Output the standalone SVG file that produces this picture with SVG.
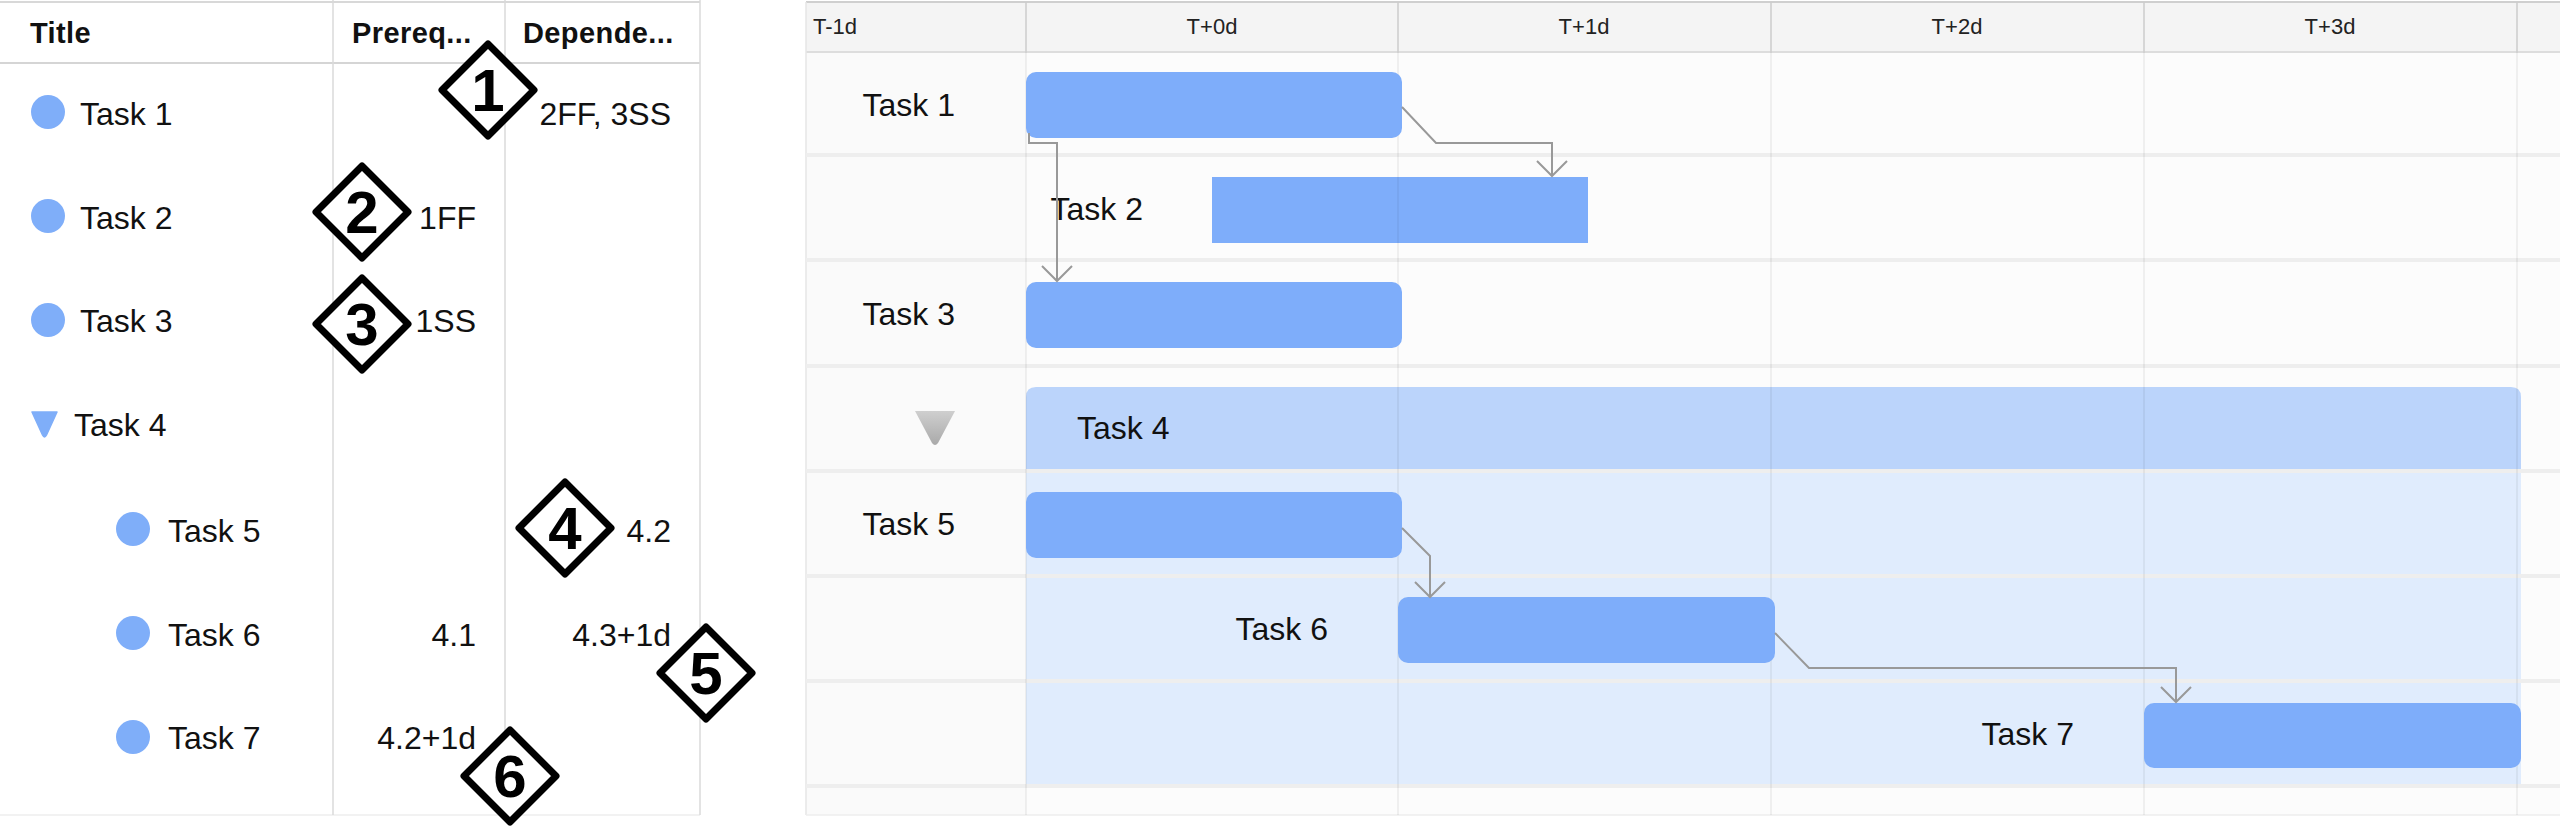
<svg xmlns="http://www.w3.org/2000/svg" width="2560" height="828" viewBox="0 0 2560 828">
<style>
  .t { font-family: "Liberation Sans", Arial, sans-serif; font-size: 32px; fill: #111; }
  .h { font-family: "Liberation Sans", Arial, sans-serif; font-size: 29px; font-weight: bold; fill: #111; letter-spacing: 0.4px; }
  .d { font-family: "Liberation Sans", Arial, sans-serif; font-size: 22px; fill: #222; }
  .n { font-family: "Liberation Sans", Arial, sans-serif; font-size: 60px; font-weight: bold; fill: #000; text-anchor: middle; }
  .end { text-anchor: end; }
  .mid { text-anchor: middle; }
  .dot { fill: #7FAEF9; }
  .bar { fill: #7EADFA; }
  .vl { stroke: #DADADA; stroke-width: 1.5; }
  .gl { stroke: rgba(0,0,0,0.07); stroke-width: 1.5; }
  .rs { stroke: #EEEEEE; stroke-width: 4; }
  .dia { fill: #FFFFFF; stroke: #000; stroke-width: 7; stroke-linejoin: round; }
  .con { fill: none; stroke: #999999; stroke-width: 2; }
</style>
<defs>
  <marker id="vee" markerUnits="userSpaceOnUse" viewBox="-17 -17 19 34" markerWidth="19" markerHeight="34" refX="0" refY="0" orient="auto">
    <path d="M-15,-15 L0,0 L-15,15" fill="none" stroke="#999999" stroke-width="2"/>
  </marker>
  <linearGradient id="gtri" x1="0" y1="0" x2="0" y2="1">
    <stop offset="0" stop-color="#CFCFCF"/>
    <stop offset="1" stop-color="#A9A9A9"/>
  </linearGradient>
</defs>

<rect x="0" y="0" width="2560" height="828" fill="#FFFFFF"/>

<!-- Left table -->
<g id="table">
  <line x1="0" y1="2" x2="700" y2="2" stroke="#D8D8D8" stroke-width="2"/>
  <line x1="0" y1="63" x2="700" y2="63" stroke="#D5D5D5" stroke-width="2"/>
  <line x1="0" y1="815" x2="700" y2="815" stroke="#EEEEEE" stroke-width="1.5"/>
  <line class="vl" x1="333" y1="0" x2="333" y2="815"/>
  <line class="vl" x1="505" y1="0" x2="505" y2="815"/>
  <line class="vl" x1="700" y1="0" x2="700" y2="815"/>
  <text class="h" x="30" y="43">Title</text>
  <text class="h" x="352" y="43">Prereq...</text>
  <text class="h" x="523" y="43">Depende...</text>
</g>

<g id="row-task1">
  <circle class="dot" cx="48" cy="112" r="17"/>
  <text class="t" x="80" y="125">Task 1</text>
  <text class="t end" x="671" y="125">2FF, 3SS</text>
</g>
<g id="row-task2">
  <circle class="dot" cx="48" cy="216" r="17"/>
  <text class="t" x="80" y="229">Task 2</text>
  <text class="t end" x="476" y="229">1FF</text>
</g>
<g id="row-task3">
  <circle class="dot" cx="48" cy="320" r="17"/>
  <text class="t" x="80" y="332">Task 3</text>
  <text class="t end" x="476" y="332">1SS</text>
</g>
<g id="row-task4">
  <path d="M32,412 L57,412 L46.5,435 Q44.5,439 42.5,435 Z" class="dot" stroke="#7FAEF9" stroke-width="1.5" stroke-linejoin="round"/>
  <text class="t" x="74" y="436">Task 4</text>
</g>
<g id="row-task5">
  <circle class="dot" cx="133" cy="529" r="17"/>
  <text class="t" x="168" y="542">Task 5</text>
  <text class="t end" x="671" y="542">4.2</text>
</g>
<g id="row-task6">
  <circle class="dot" cx="133" cy="633" r="17"/>
  <text class="t" x="168" y="646">Task 6</text>
  <text class="t end" x="476" y="646">4.1</text>
  <text class="t end" x="671" y="646">4.3+1d</text>
</g>
<g id="row-task7">
  <circle class="dot" cx="133" cy="737" r="17"/>
  <text class="t" x="168" y="749">Task 7</text>
  <text class="t end" x="476" y="749">4.2+1d</text>
</g>

<!-- Gantt chart -->
<g id="gantt-grid">
  <rect x="806" y="2" width="1754" height="813" fill="#FCFCFC"/>
  <rect x="806" y="52" width="220" height="763" fill="#FAFAFA"/>
  <rect x="806" y="2" width="1754" height="50" fill="#F4F4F4"/>
  <line x1="806" y1="2" x2="2560" y2="2" stroke="#CFCFCF" stroke-width="2"/>
  <line x1="806" y1="52" x2="2560" y2="52" stroke="#DDDDDD" stroke-width="2"/>
  <line x1="806" y1="2" x2="806" y2="815" stroke="#E6E6E6" stroke-width="1.5"/>
</g>

<g id="task4-summary">
  <rect x="1026" y="473" width="1495" height="312" fill="#E0ECFD"/>
  <path d="M1026,397 Q1026,387 1036,387 L2511,387 Q2521,387 2521,397 L2521,473 L1026,473 Z" fill="#BBD4FB"/>
  <path d="M915,411 L955,411 L938,443 Q935,447 932,443 Z" fill="url(#gtri)"/>
  <text class="t" x="1077" y="439">Task 4</text>
</g>

<g id="gantt-lines">
  <line class="rs" x1="806" y1="155" x2="2560" y2="155"/>
  <line class="rs" x1="806" y1="260" x2="2560" y2="260"/>
  <line class="rs" x1="806" y1="366" x2="2560" y2="366"/>
  <line class="rs" x1="806" y1="471" x2="2560" y2="471" stroke="rgba(0,0,0,0.06)"/>
  <line class="rs" x1="806" y1="576" x2="2560" y2="576" stroke="rgba(0,0,0,0.05)"/>
  <line class="rs" x1="806" y1="681" x2="2560" y2="681" stroke="rgba(0,0,0,0.05)"/>
  <line class="rs" x1="806" y1="786" x2="2560" y2="786" stroke="rgba(0,0,0,0.05)"/>
  <line x1="806" y1="815" x2="2560" y2="815" stroke="#EEEEEE" stroke-width="1.5"/>
  <line class="gl" x1="1026" y1="52" x2="1026" y2="815"/>
  <line class="gl" x1="1398" y1="52" x2="1398" y2="815"/>
  <line class="gl" x1="1771" y1="52" x2="1771" y2="815"/>
  <line class="gl" x1="2144" y1="52" x2="2144" y2="815"/>
  <line class="gl" x1="2517" y1="52" x2="2517" y2="815"/>
  <line x1="1026" y1="2" x2="1026" y2="52" stroke="#CCCCCC" stroke-width="1.5"/>
  <line x1="1398" y1="2" x2="1398" y2="52" stroke="#CCCCCC" stroke-width="1.5"/>
  <line x1="1771" y1="2" x2="1771" y2="52" stroke="#CCCCCC" stroke-width="1.5"/>
  <line x1="2144" y1="2" x2="2144" y2="52" stroke="#CCCCCC" stroke-width="1.5"/>
  <line x1="2517" y1="2" x2="2517" y2="52" stroke="#CCCCCC" stroke-width="1.5"/>
  <text class="d" x="813" y="34">T-1d</text>
  <text class="d mid" x="1212" y="34">T+0d</text>
  <text class="d mid" x="1584" y="34">T+1d</text>
  <text class="d mid" x="1957" y="34">T+2d</text>
  <text class="d mid" x="2330" y="34">T+3d</text>
</g>

<g id="bar-task1">
  <rect class="bar" x="1026" y="72" width="376" height="66" rx="10"/>
  <text class="t end" x="955" y="116">Task 1</text>
</g>
<g id="bar-task2">
  <rect class="bar" x="1212" y="177" width="376" height="66"/>
  <line x1="1398" y1="177" x2="1398" y2="243" stroke="rgba(0,0,0,0.06)" stroke-width="1.5"/>
  <text class="t end" x="1143" y="220">Task 2</text>
</g>
<g id="bar-task3">
  <rect class="bar" x="1026" y="282" width="376" height="66" rx="10"/>
  <text class="t end" x="955" y="325">Task 3</text>
</g>
<g id="bar-task5">
  <rect class="bar" x="1026" y="492" width="376" height="66" rx="10"/>
  <text class="t end" x="955" y="535">Task 5</text>
</g>
<g id="bar-task6">
  <rect class="bar" x="1398" y="597" width="377" height="66" rx="10"/>
  <text class="t end" x="1328" y="640">Task 6</text>
</g>
<g id="bar-task7">
  <rect class="bar" x="2144" y="703" width="377" height="65" rx="10"/>
  <text class="t end" x="2074" y="745">Task 7</text>
</g>

<g id="connectors">
  <path class="con" d="M1402,107 L1436,143 L1552,143 L1552,176" marker-end="url(#vee)"/>
  <path class="con" d="M1029,133 L1029,143 L1057,143 L1057,281" marker-end="url(#vee)"/>
  <path class="con" d="M1402,528 L1430,556 L1430,597" marker-end="url(#vee)"/>
  <path class="con" d="M1775,633 L1809,668 L2176,668 L2176,702" marker-end="url(#vee)"/>
</g>

<!-- Callout diamonds -->
<g id="callout-1">
  <path class="dia" d="M488,44 L534,90 L488,136 L442,90 Z"/>
  <text class="n" x="488" y="111">1</text>
</g>
<g id="callout-2">
  <path class="dia" d="M362,166 L408,212 L362,258 L316,212 Z"/>
  <text class="n" x="362" y="233">2</text>
</g>
<g id="callout-3">
  <path class="dia" d="M362,278 L408,324 L362,370 L316,324 Z"/>
  <text class="n" x="362" y="345">3</text>
</g>
<g id="callout-4">
  <path class="dia" d="M565,482 L611,528 L565,574 L519,528 Z"/>
  <text class="n" x="565" y="549">4</text>
</g>
<g id="callout-5">
  <path class="dia" d="M706,627 L752,673 L706,719 L660,673 Z"/>
  <text class="n" x="706" y="694">5</text>
</g>
<g id="callout-6">
  <path class="dia" d="M510,730 L556,776 L510,822 L464,776 Z"/>
  <text class="n" x="510" y="797">6</text>
</g>
</svg>
